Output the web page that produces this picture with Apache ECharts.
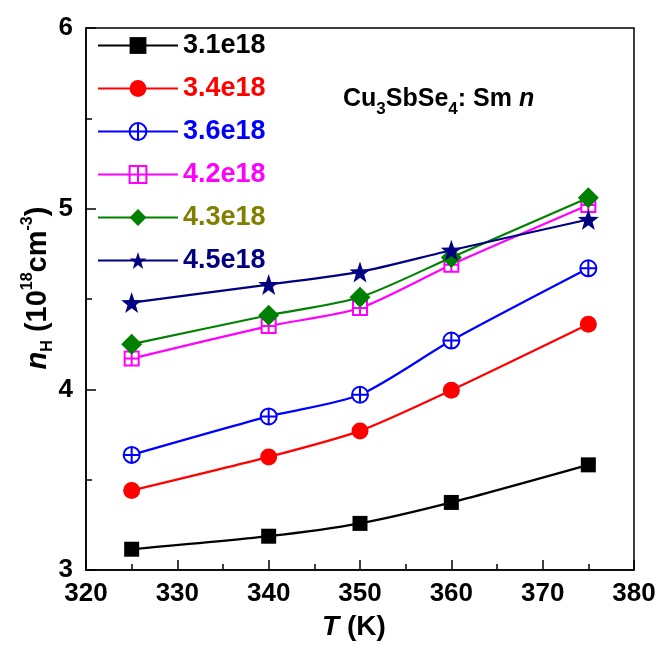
<!DOCTYPE html>
<html><head><meta charset="utf-8">
<script src="https://cdn.jsdelivr.net/npm/echarts@6/dist/echarts.min.js"></script>
<style>html,body{margin:0;padding:0;background:#fff}#c{width:660px;height:646px}</style>
</head><body><div id="c"></div>
<script>
const temps = [325, 340, 350, 360, 375];
const names = ['3.1e18', '3.4e18', '3.6e18', '4.2e18', '4.3e18', '4.5e18'];
const s31 = [3.115, 3.187, 3.258, 3.374, 3.582];
const s34 = [3.44, 3.626, 3.77, 3.995, 4.36];
const s36 = [3.637, 3.85, 3.97, 4.27, 4.67];
const s42 = [4.17, 4.35, 4.45, 4.69, 5.02];
const s43 = [4.25, 4.41, 4.51, 4.73, 5.06];
const s45 = [4.48, 4.58, 4.65, 4.77, 4.94];
const xTicks = [320, 330, 340, 350, 360, 370, 380];
const yTicks = [3, 4, 5, 6];

const FONT = '"Liberation Sans", Arial, sans-serif';
const circlePlus = 'path://M0,-10 A10,10 0 1,1 0,10 A10,10 0 1,1 0,-10 Z M-10,0 L10,0 M0,-10 L0,10';
const squarePlus = 'path://M-10,-10 L10,-10 L10,10 L-10,10 Z M-10,0 L10,0 M0,-10 L0,10';
const star = 'path://M0,-100 L23.5,-32.4 L95.1,-30.9 L38,12.4 L58.8,80.9 L0,40 L-58.8,80.9 L-38,12.4 L-95.1,-30.9 L-23.5,-32.4 Z';

const styles = [
  {data: s31, color: '#000000', text: '#000000', symbol: 'rect', size: 15, open: false},
  {data: s34, color: '#ff0000', text: '#ff0000', symbol: 'circle', size: 17, open: false},
  {data: s36, color: '#0000ff', text: '#0000ff', symbol: circlePlus, size: 16, open: true},
  {data: s42, color: '#ff00ff', text: '#ff00ff', symbol: squarePlus, size: 14, open: true},
  {data: s43, color: '#008000', text: '#808000', symbol: 'diamond', size: 21, open: false},
  {data: s45, color: '#000080', text: '#000080', symbol: star, size: 21, open: false}
];

const series = styles.map((s, i) => ({
  name: names[i],
  type: 'line',
  smooth: 0.25,
  data: temps.map((t, j) => [t, s.data[j]]),
  symbol: s.symbol,
  symbolSize: s.size,
  lineStyle: {color: s.color, width: 2.2},
  itemStyle: s.open ? {color: '#ffffff', borderColor: s.color, borderWidth: 2} : {color: s.color, borderWidth: 0},
  z: 2 + i
}));

const chart = echarts.init(document.getElementById('c'), null, {renderer: 'canvas'});
chart.setOption({
  animation: false,
  backgroundColor: '#ffffff',
  grid: {left: 86, right: 26, top: 28, bottom: 74, show: true, borderColor: '#000', borderWidth: 1.5, backgroundColor: 'transparent'},
  legend: {
    orient: 'vertical', left: 92, top: 27,
    itemWidth: 80, itemHeight: 21, itemGap: 16,
    data: names.map((n, i) => ({name: n, textStyle: {color: styles[i].text}})),
    textStyle: {fontFamily: FONT, fontSize: 27, fontWeight: 'bold', padding: [0, 0, 0, 0]}
  },
  xAxis: {
    type: 'value', min: 320, max: 380, interval: 10,
    axisLine: {lineStyle: {color: '#000', width: 1.5}},
    axisTick: {inside: true, length: 10, lineStyle: {color: '#000', width: 1.5}},
    minorTick: {show: true, splitNumber: 2, length: 6, lineStyle: {color: '#000', width: 1.5}},
    splitLine: {show: false},
    axisLabel: {margin: 11, color: '#000', fontFamily: FONT, fontSize: 26, fontWeight: 'bold',
      formatter: v => xTicks.includes(v) ? String(v) : ''},
    name: '{i|T} (K)', nameLocation: 'middle', nameGap: 43,
    nameTextStyle: {color: '#000', fontFamily: FONT, fontSize: 28, fontWeight: 'bold', padding: [0, 12, 0, 0],
      rich: {i: {fontFamily: FONT, fontSize: 28, fontWeight: 'bold', fontStyle: 'italic', color: '#000'}}}
  },
  yAxis: {
    type: 'value', min: 3, max: 6, interval: 1,
    axisLine: {lineStyle: {color: '#000', width: 1.5}},
    axisTick: {inside: true, length: 10, lineStyle: {color: '#000', width: 1.5}},
    minorTick: {show: true, splitNumber: 2, length: 6, lineStyle: {color: '#000', width: 1.5}},
    splitLine: {show: false},
    axisLabel: {margin: 13, color: '#000', fontFamily: FONT, fontSize: 26, fontWeight: 'bold',
      formatter: v => yTicks.includes(v) ? String(v) : ''}
  },
  graphic: [{
    type: 'text', left: 343, top: 87, z: 100,
    style: {
      text: '{b|Cu}{s|3}{b|SbSe}{s|4}{b|: Sm }{i|n}',
      rich: {
        b: {fontFamily: FONT, fontSize: 25, fontWeight: 'bold', fill: '#000', lineHeight: 31, verticalAlign: 'top'},
        s: {fontFamily: FONT, fontSize: 17, fontWeight: 'bold', fill: '#000', lineHeight: 31, verticalAlign: 'bottom'},
        i: {fontFamily: FONT, fontSize: 25, fontWeight: 'bold', fontStyle: 'italic', fill: '#000', lineHeight: 31, verticalAlign: 'top'}
      }
    }
  }, {
    type: 'text', x: 38, y: 288, rotation: Math.PI / 2, z: 100,
    style: {
      text: '{i|n}{sub|H} (10{sup|18}cm{sup|-3})',
      align: 'center', verticalAlign: 'middle',
      rich: {
        i: {fontFamily: FONT, fontSize: 29, fontWeight: 'bold', fontStyle: 'italic', fill: '#000', lineHeight: 36},
        sub: {fontFamily: FONT, fontSize: 16, fontWeight: 'bold', fill: '#000', verticalAlign: 'bottom', lineHeight: 36},
        sup: {fontFamily: FONT, fontSize: 16, fontWeight: 'bold', fill: '#000', verticalAlign: 'top', lineHeight: 36}
      },
      fontFamily: FONT, fontSize: 29, fontWeight: 'bold', fill: '#000', lineHeight: 36
    }
  }],
  series: series
});
</script>
</body></html>
